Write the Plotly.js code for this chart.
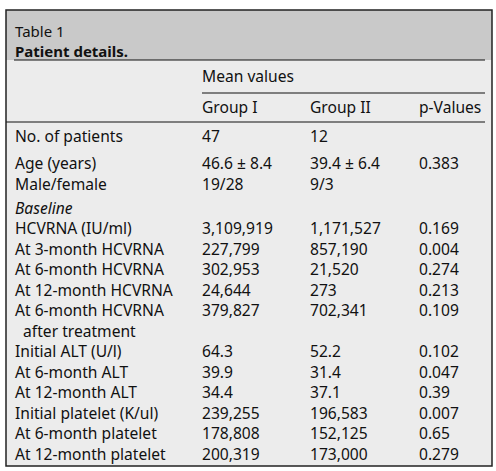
<!DOCTYPE html>
<html><head><meta charset="utf-8">
<script src="https://cdn.plot.ly/plotly-3.0.1.min.js"></script>
<style>html,body{margin:0;padding:0;background:#fff}</style>
</head><body><div id="chart" style="width:496px;height:471px"></div>
<script>
const tableLabel = "Table 1";
const tableTitle = "Patient details.";
const spanHeader = "Mean values";
const columnHeaders = ["Group I", "Group II", "p-Values"];
const rowLabels = ["No. of patients", "Age (years)", "Male/female", "Baseline", "HCVRNA (IU/ml)",
  "At 3-month HCVRNA", "At 6-month HCVRNA", "At 12-month HCVRNA", "At 6-month HCVRNA",
  "  after treatment", "Initial ALT (U/l)", "At 6-month ALT", "At 12-month ALT",
  "Initial platelet (K/ul)", "At 6-month platelet", "At 12-month platelet"];
const groupI = ["47", "46.6 ± 8.4", "19/28", "", "3,109,919", "227,799", "302,953", "24,644",
  "379,827", "", "64.3", "39.9", "34.4", "239,255", "178,808", "200,319"];
const groupII = ["12", "39.4 ± 6.4", "9/3", "", "1,171,527", "857,190", "21,520", "273",
  "702,341", "", "52.2", "31.4", "37.1", "196,583", "152,125", "173,000"];
const pValues = ["", "0.383", "", "", "0.169", "0.004", "0.274", "0.213",
  "0.109", "", "0.102", "0.047", "0.39", "0.007", "0.65", "0.279"];
const italicRows = [3];

// layout geometry
const W = 496, H = 471;
const FONT = "Noto Sans, DejaVu Sans, sans-serif";
const FS = 15.6;
const colX = [14, 201, 309, 418];
const rowY0 = 136, pitch = 20.5;
const extraGap = {1: 6.5, 3: 3.5};
const rowY = [];
let yy = rowY0;
for (let i = 0; i < rowLabels.length; i++) {
  if (i > 0) yy += pitch + (extraGap[i] || 0);
  rowY.push(yy);
}

const ann = [];
function txt(x, y, s, opts) {
  ann.push(Object.assign({x: x, y: y, xref: 'x', yref: 'y', text: s, showarrow: false,
    xanchor: 'left', yanchor: 'middle', align: 'left', borderpad: 0,
    font: {family: FONT, size: FS, color: '#111'}}, opts || {}));
}
txt(colX[0], 41, tableLabel + '<br><b>' + tableTitle + '</b>', {font: {family: FONT, size: 15, color: '#111'}});
txt(colX[1], 76, spanHeader);
columnHeaders.forEach((h, j) => txt(colX[j + 1], 107, h));
rowLabels.forEach((lab, i) => {
  const t = italicRows.includes(i) ? '<i>' + lab + '</i>' : lab.replace(/^ +/, '&nbsp;&nbsp;');
  txt(colX[0], rowY[i], t);
  if (groupI[i]) txt(colX[1], rowY[i], groupI[i]);
  if (groupII[i]) txt(colX[2], rowY[i], groupII[i]);
  if (pValues[i]) txt(colX[3], rowY[i], pValues[i]);
});

const shapes = [
  {type: 'rect', x0: 6, x1: 492, y0: 10, y1: 466, fillcolor: '#ececec', line: {width: 0}, layer: 'below'},
  {type: 'rect', x0: 6, x1: 492, y0: 10, y1: 60, fillcolor: '#c9c9c9', line: {width: 0}, layer: 'below'},
  {type: 'line', x0: 14, x1: 485, y0: 60, y1: 60, line: {color: '#111', width: 1.2}},
  {type: 'line', x0: 202, x1: 485, y0: 93, y1: 93, line: {color: '#111', width: 1.2}},
  {type: 'line', x0: 6, x1: 485, y0: 122, y1: 122, line: {color: '#111', width: 1.2}},
  {type: 'rect', x0: 6, x1: 492, y0: 10, y1: 466, line: {color: '#222', width: 1.5}}
];

Plotly.newPlot('chart', [], {
  width: W, height: H, margin: {l: 0, r: 0, t: 0, b: 0},
  paper_bgcolor: '#fff', plot_bgcolor: '#fff',
  xaxis: {range: [0, W], visible: false, fixedrange: true},
  yaxis: {range: [H, 0], visible: false, fixedrange: true},
  showlegend: false, annotations: ann, shapes: shapes
}, {staticPlot: true});
</script></body></html>
